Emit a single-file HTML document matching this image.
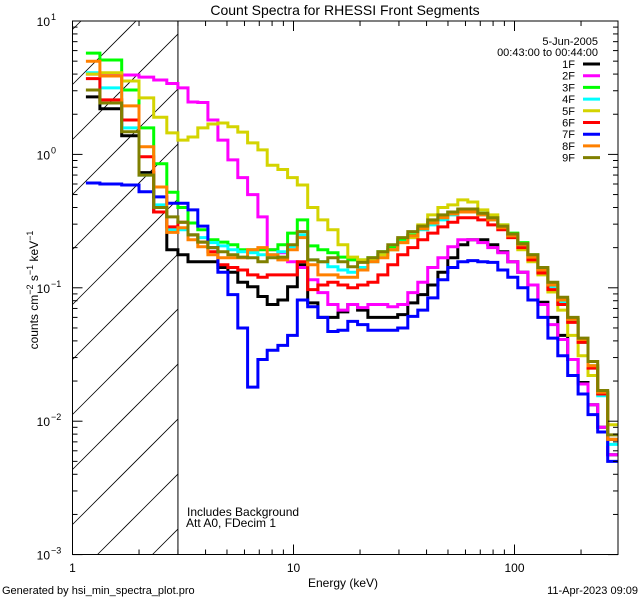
<!DOCTYPE html>
<html><head><meta charset="utf-8"><style>
html,body{margin:0;padding:0;background:#fff;width:640px;height:600px;overflow:hidden;}
svg{display:block;font-family:"Liberation Sans",sans-serif;}
</style></head><body>
<svg id="chart" width="640" height="600" viewBox="0 0 640 600">
<rect width="640" height="600" fill="#fff"/>
<text x="345" y="15" font-size="14" text-anchor="middle">Count Spectra for RHESSI Front Segments</text>
<g id="hatch"></g>
<g id="series"></g>
<g id="axes"></g>
<text x="343" y="587" font-size="12" text-anchor="middle">Energy (keV)</text>
<text transform="translate(38,290) rotate(-90)" font-size="12" text-anchor="middle">counts cm<tspan dy="-5" font-size="9">−2</tspan><tspan dy="5"> s</tspan><tspan dy="-5" font-size="9">−1</tspan><tspan dy="5"> keV</tspan><tspan dy="-5" font-size="9">−1</tspan></text>
<text x="187" y="516" font-size="12">Includes Background</text>
<text x="186" y="527" font-size="12">Att A0, FDecim 1</text>
<text x="2" y="594" font-size="11">Generated by hsi_min_spectra_plot.pro</text>
<text x="638" y="594" font-size="11" text-anchor="end">11-Apr-2023 09:09</text>
<text x="598" y="45" font-size="11" text-anchor="end">5-Jun-2005</text>
<text x="598" y="56" font-size="11" text-anchor="end">00:43:00 to 00:44:00</text>
<g id="legend"></g>
</svg>
<script>
const energyEdges=[1.15,1.33,1.67,2.0,2.33,2.67,3.0,3.33,3.69,4.1,4.55,5.05,5.6,6.2,6.9,7.6,8.5,9.4,10.4,11.6,12.9,14.3,15.9,17.6,19.5,21.7,24.1,26.7,29.6,32.9,36.5,40.5,45,49.9,55.4,61.5,68.2,75.7,84,93.3,103.5,115,127.6,141.6,157,174,194,215,238,264,293];
const seriesNames=["1F","2F","3F","4F","5F","6F","7F","8F","9F"];
const seriesColors=["#000000","#ff00ff","#00ff00","#00ffff","#d4d400","#ff0000","#0000ff","#ff8000","#808000"];
const s1F=[2.7,2.2,1.38,0.73,0.37,0.193,0.177,0.157,0.157,0.157,0.142,0.131,0.11,0.102,0.086,0.075,0.081,0.102,0.149,0.077,0.06,0.06,0.066,0.075,0.068,0.06,0.06,0.06,0.063,0.077,0.089,0.105,0.131,0.168,0.21,0.229,0.229,0.21,0.186,0.157,0.131,0.105,0.078,0.06,0.044,0.029,0.0195,0.0133,0.009,0.0056];
const s2F=[4.0,3.95,3.94,3.8,3.61,3.4,3.15,2.47,2.45,1.81,1.28,0.91,0.67,0.5,0.34,0.193,0.183,0.157,0.142,0.115,0.092,0.075,0.068,0.075,0.071,0.075,0.075,0.072,0.075,0.092,0.11,0.142,0.168,0.203,0.229,0.229,0.218,0.2,0.183,0.157,0.131,0.105,0.075,0.053,0.041,0.029,0.019,0.0133,0.009,0.0056];
const s3F=[5.75,5.1,3.04,1.58,0.85,0.52,0.4,0.306,0.272,0.229,0.22,0.21,0.193,0.193,0.193,0.193,0.21,0.257,0.323,0.206,0.193,0.183,0.17,0.162,0.162,0.168,0.186,0.2,0.229,0.249,0.282,0.31,0.34,0.37,0.384,0.384,0.362,0.335,0.296,0.257,0.218,0.177,0.136,0.105,0.081,0.058,0.041,0.026,0.0165,0.0073];
const s4F=[4.1,3.15,1.58,0.7,0.418,0.272,0.272,0.249,0.238,0.218,0.206,0.193,0.186,0.183,0.177,0.177,0.186,0.203,0.249,0.162,0.157,0.144,0.136,0.131,0.142,0.157,0.177,0.193,0.22,0.238,0.272,0.296,0.323,0.352,0.37,0.37,0.352,0.323,0.282,0.249,0.21,0.17,0.131,0.102,0.077,0.056,0.039,0.025,0.0155,0.0067];
const s5F=[4.0,4.1,3.55,2.65,1.9,1.45,1.28,1.35,1.58,1.69,1.72,1.61,1.47,1.22,1.08,0.83,0.77,0.67,0.59,0.4,0.323,0.272,0.21,0.17,0.162,0.162,0.177,0.193,0.218,0.238,0.296,0.352,0.4,0.418,0.456,0.44,0.384,0.352,0.296,0.238,0.193,0.157,0.125,0.093,0.068,0.044,0.031,0.022,0.016,0.0094];
const s6F=[3.7,2.56,1.81,0.96,0.37,0.286,0.31,0.249,0.22,0.186,0.149,0.142,0.136,0.125,0.12,0.125,0.125,0.125,0.157,0.097,0.105,0.11,0.105,0.1,0.105,0.11,0.125,0.149,0.177,0.2,0.229,0.257,0.286,0.31,0.335,0.335,0.323,0.296,0.272,0.238,0.2,0.162,0.129,0.097,0.075,0.055,0.039,0.025,0.016,0.0073];
const s7F=[0.61,0.6,0.59,0.525,0.48,0.43,0.43,0.384,0.29,0.2,0.131,0.089,0.05,0.018,0.029,0.034,0.037,0.044,0.081,0.072,0.06,0.047,0.048,0.056,0.053,0.048,0.048,0.048,0.05,0.061,0.068,0.084,0.115,0.142,0.157,0.16,0.157,0.155,0.136,0.12,0.1,0.081,0.06,0.042,0.031,0.022,0.016,0.0112,0.0083,0.005];
const s8F=[5.0,3.87,2.31,1.14,0.57,0.26,0.282,0.229,0.203,0.177,0.168,0.168,0.168,0.193,0.2,0.177,0.162,0.193,0.238,0.149,0.125,0.125,0.12,0.12,0.136,0.157,0.168,0.193,0.218,0.245,0.277,0.306,0.335,0.358,0.37,0.37,0.352,0.323,0.282,0.245,0.21,0.17,0.136,0.105,0.081,0.058,0.041,0.026,0.0165,0.0073];
const s9F=[3.04,2.43,1.48,0.7,0.4,0.34,0.31,0.249,0.22,0.2,0.186,0.177,0.17,0.168,0.157,0.168,0.17,0.21,0.264,0.162,0.157,0.168,0.157,0.144,0.155,0.168,0.186,0.21,0.238,0.264,0.29,0.323,0.352,0.37,0.39,0.39,0.362,0.335,0.29,0.253,0.214,0.177,0.142,0.11,0.085,0.06,0.042,0.028,0.017,0.0079];
const seriesValues=[s1F,s2F,s3F,s4F,s5F,s6F,s7F,s8F,s9F];
const xTickLabels=["1","10","100"];
const yTickExps=["1","0","−1","−2","−3"];

const NS="http://www.w3.org/2000/svg";
const L=72.5,R=618,T=21,B=554.5;
const xMinLog=0, xPerDec=221, yTopLog=1, yPerDec=133.4;
function xs(e){return L+(Math.log10(e)-xMinLog)*xPerDec;}
function ys(v){return T+(yTopLog-Math.log10(v))*yPerDec;}
function mk(tag,attrs,parent){const el=document.createElementNS(NS,tag);for(const k in attrs)el.setAttribute(k,attrs[k]);parent.appendChild(el);return el;}

const hatch=document.getElementById('hatch');
const xh=xs(3.0);
for(let c=377-55*8;c<900;c+=55){
  // line y = c - x, clipped to [L,xh] x [T,B]
  let xa=Math.max(L,c-B), xb=Math.min(xh,c-T);
  if(xb<=xa) continue;
  const ln=mk('line',{x1:xa,y1:c-xa,x2:xb,y2:c-xb,stroke:'#000','stroke-width':0.8},hatch);
  
  
}
const vl=mk('line',{x1:xh,y1:T,x2:xh,y2:B,stroke:'#000','stroke-width':1},hatch);



const sg=document.getElementById('series');
seriesValues.forEach((vals,si)=>{
  let d='';
  vals.forEach((v,i)=>{
    const x0=xs(energyEdges[i]),x1=Math.min(R,xs(energyEdges[i+1])),y=Math.min(B,Math.max(T,ys(v)));
    d+=(i===0?'M':'L')+x0.toFixed(1)+','+y.toFixed(1)+'L'+x1.toFixed(1)+','+y.toFixed(1);
  });
  const p=mk('path',{d:d,fill:'none',stroke:seriesColors[si],'stroke-width':3,'stroke-linejoin':'miter'},sg);
  
  
});

const ax=document.getElementById('axes');
const frame=mk('rect',{x:L,y:T,width:R-L,height:B-T,fill:'none',stroke:'#000','stroke-width':1},ax);


for(let d=0;d<3;d++){
  for(let m=1;m<10;m++){
    const e=m*Math.pow(10,d); if(e>290)break;
    const x=xs(e), len=m===1?10:5;
    mk('line',{x1:x,y1:B,x2:x,y2:B-len,stroke:'#000'},ax);
    mk('line',{x1:x,y1:T,x2:x,y2:T+len,stroke:'#000'},ax);
  }
}
xTickLabels.forEach((t,i)=>{
  const tx=mk('text',{x:xs(Math.pow(10,i)),y:572,'font-size':12,'text-anchor':'middle'},ax);
  tx.textContent=t;
  
  
});
for(let d=-3;d<=0;d++){
  for(let m=1;m<10;m++){
    const v=m*Math.pow(10,d), y=ys(v), len=m===1?10:5;
    mk('line',{x1:L,y1:y,x2:L+len,y2:y,stroke:'#000'},ax);
    mk('line',{x1:R,y1:y,x2:R-len,y2:y,stroke:'#000'},ax);
  }
}
mk('line',{x1:L,y1:ys(10),x2:L+10,y2:ys(10),stroke:'#000'},ax);
yTickExps.forEach((t,i)=>{
  const y=ys(Math.pow(10,1-i));
  const tx=mk('text',{x:50,y:y+5,'font-size':12,'text-anchor':'end'},ax);
  tx.textContent='10';
  
  
  const sp=mk('text',{x:51,y:y-1,'font-size':9},ax);
  sp.textContent=t;
  
  
});

const lg=document.getElementById('legend');
seriesNames.forEach((n,i)=>{
  const y=64+i*11.7;
  const tx=mk('text',{x:575,y:y+4,'font-size':11,'text-anchor':'end'},lg);
  tx.textContent=n;
  
  
  const ln=mk('line',{x1:583,y1:y,x2:600,y2:y,stroke:seriesColors[i],'stroke-width':3},lg);
  
  
});
</script>
</body></html>
